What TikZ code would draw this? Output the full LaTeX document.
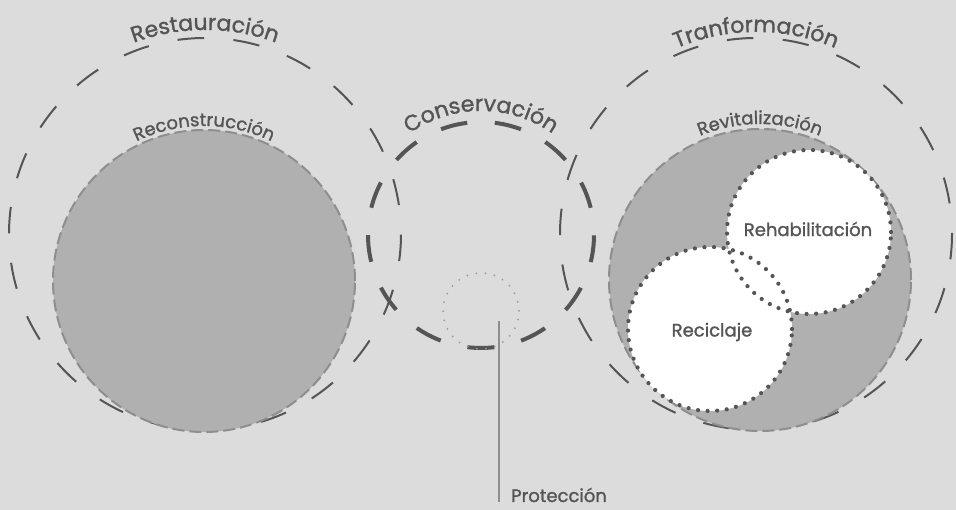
\documentclass[tikz,border=0pt]{standalone}
\usepackage{fontspec}
\newfontfamily\pop{Poppins}[FakeBold=1.3]
\usetikzlibrary{decorations.text}
\definecolor{bg}{HTML}{DCDCDC}
\definecolor{disk}{HTML}{B0B0B0}
\definecolor{ink}{HTML}{555555}
\definecolor{rim}{HTML}{8E8E8E}
\definecolor{dotlight}{HTML}{9A9A9A}
\tikzset{
  x=1pt,y=1pt,
  outerring/.style={circle,inner sep=0pt,draw=ink,line width=2pt,dash pattern=on 26.5pt off 29.48pt,minimum size=392pt},
  consring/.style={circle,inner sep=0pt,draw=ink,line width=4pt,dash pattern=on 27pt off 27.6pt,dash phase=27.1pt,minimum size=226pt},
  diskc/.style={circle,inner sep=0pt,fill=disk,draw=rim,line width=2pt,dash pattern=on 12pt off 5pt,minimum size=302pt},
  whitec/.style={circle,inner sep=0pt,fill=white,minimum size=164pt},
  dotring/.style={circle,inner sep=0pt,draw=ink,line width=4.2pt,line cap=round,dash pattern=on 0pt off 9.6pt,minimum size=164pt},
  protring/.style={circle,inner sep=0pt,draw=dotlight,line width=2pt,line cap=round,dash pattern=on 0pt off 9.2pt,minimum size=76pt},
  inlabel/.style={text=ink,font=\pop\fontsize{18}{21}\selectfont,inner sep=0pt},
  arctext/.style={decorate,decoration={text along path,text align=center,text={#1}}},
}
\newcommand\bigf{\pop\fontsize{22}{25}\selectfont\color{ink}}
\newcommand\smallf{\pop\fontsize{18}{21}\selectfont\color{ink}}
\begin{document}
\begin{tikzpicture}
\fill[bg] (0,0) rectangle (956,510);
\useasboundingbox (0,0) rectangle (956,510);
% outer rings
\node[outerring,dash phase=27pt] (restaur) at (205,276) {};
\node[outerring,dash phase=25.3pt] (transf) at (756,276) {};
% disks
\node[diskc] (recon) at (204,229) {};
\node[diskc] (revit) at (760,230) {};
% conservation
\node[consring] (conserv) at (481,275) {};
\node[protring] (protc) at (481,199) {};
% white circles
\node[whitec] (recifill) at (710,181) {};
\node[whitec] (rehafill) at (809,278) {};
\node[dotring] (reci) at (710,181) {};
\node[dotring] (reha) at (809,278) {};
\node[inlabel] at (808,281) {Rehabilitación};
\node[inlabel] at (712,178) {Reciclaje};
% arc texts
\path[arctext={|\bigf|Restauración}] ([shift={(150:204)}]restaur.center) arc[start angle=150,end angle=30,radius=204];
\path[arctext={|\bigf|Tranformación}] ([shift={(150:202)}]transf.center) arc[start angle=150,end angle=30,radius=202];
\path[arctext={|\bigf|Conservación}] ([shift={(160:124)}]conserv.center) arc[start angle=160,end angle=20,radius=124];
\path[arctext={|\smallf|Reconstrucción}] ([shift={(150:155)}]recon.center) arc[start angle=150,end angle=30,radius=155];
\path[arctext={|\smallf|Revitalización}] ([shift={(150:156)}]revit.center) arc[start angle=150,end angle=30,radius=156];
% proteccion
\coordinate (pstart) at (499,189);
\node[inlabel,anchor=base west] (prot) at (511,8) {Protección};
\draw[rim,line width=1.6pt] (pstart) -- (pstart |- prot.base);
\end{tikzpicture}
\end{document}
